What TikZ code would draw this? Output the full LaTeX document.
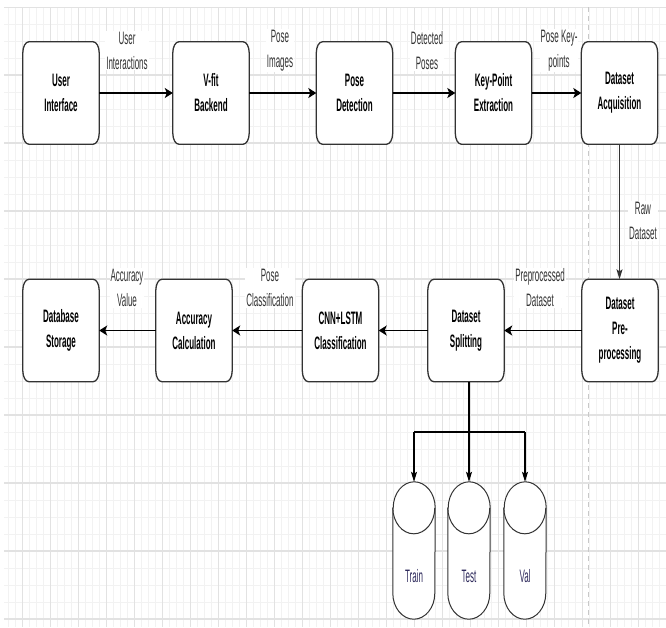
\documentclass[tikz,border=0pt]{standalone}
\usepackage{fontspec}
\setmainfont{Liberation Sans}
\newfontfamily\cond[FakeStretch=0.445]{Liberation Sans}
\usetikzlibrary{arrows.meta,backgrounds}
\definecolor{gridmaj}{HTML}{E2E2E2}
\definecolor{gridmin}{HTML}{F2F2F2}
\definecolor{edgec}{HTML}{333333}
\definecolor{lblc}{HTML}{333333}
\definecolor{cyltext}{HTML}{2E2A5C}
\definecolor{pagec}{HTML}{C8C8C8}
\begin{document}
\begin{tikzpicture}[x=1pt,y=1pt,
  box/.style={minimum width=76pt,minimum height=102pt,inner sep=0pt,align=center,
    font=\cond\bfseries\fontsize{18}{25}\selectfont},
  lab/.style={align=center,font=\cond\fontsize{18}{25}\selectfont,text=lblc,fill=white,inner sep=1pt},
  cyl/.style={minimum width=42pt,minimum height=137pt,inner sep=0pt},
  cyllab/.style={font=\cond\fontsize{18}{24}\selectfont,text=cyltext},
  boxline/.style={draw=edgec,fill=white,line width=1.3pt},
  cylline/.style={draw=edgec,fill=white,line width=1pt},
  harrow/.style={line width=1.3pt,-{Stealth[length=8pt,width=10pt,inset=2pt]}},
  varrow/.style={line width=1.1pt,-{Stealth[length=10pt,width=6pt,inset=2pt]}},
  plain/.style={line width=1.1pt},
]
\useasboundingbox (0,0) rectangle (666,-627);

% process boxes
\node[box] (ui)    at (61,-93)    {User\\Interface};
\node[box] (vfit)  at (211,-93)   {V-fit\\Backend};
\node[box] (pose)  at (354.5,-93) {Pose\\Detection};
\node[box] (kp)    at (493.5,-93) {Key-Point\\Extraction};
\node[box] (acq)   at (619.5,-93) {Dataset\\Acquisition};
\node[box] (pre)   at (620,-330.5) {Dataset\\Pre-\\processing};
\node[box] (split) at (466,-330.5) {Dataset\\Splitting};
\node[box] (cnn)   at (340.5,-330.5) {CNN+LSTM\\Classification};
\node[box] (acc)   at (194,-330.5) {Accuracy\\Calculation};
\node[box] (db)    at (61,-330.5)  {Database\\Storage};

% data stores
\node[cyl,label={[cyllab,yshift=-26pt]center:Train}] (train) at (414,-550.5) {};
\node[cyl,label={[cyllab,yshift=-26pt]center:Test}]  (test)  at (469,-550.5) {};
\node[cyl,label={[cyllab,yshift=-26pt]center:Val}]   (val)   at (525,-550.5) {};

\begin{scope}[on background layer]
  \begin{scope}
    \clip (4,-7) rectangle (666,-627);
    \foreach \x in {8,15,...,666} \draw[gridmin,line width=0.8pt] (\x,-7) -- (\x,-627);
    \foreach \y in {7,24,...,627} \draw[gridmin,line width=0.8pt] (4,-\y) -- (666,-\y);
    \foreach \x in {22,50,...,666} \draw[gridmaj,line width=0.9pt] (\x,-7) -- (\x,-627);
    \foreach \y in {7,75,...,627} \draw[gridmaj,line width=1.2pt] (4,-\y) -- (666,-\y);
  \end{scope}
  \draw[pagec,line width=0.8pt,dash pattern=on 5pt off 4pt] (588,-7) -- (588,-627);
  \foreach \n in {ui,vfit,pose,kp,acq,pre,split,cnn,acc,db}{
    \filldraw[boxline] ([yshift=-11pt]\n.north west) -- ([yshift=11pt]\n.south west)
      arc[start angle=180,end angle=270,x radius=6pt,y radius=11pt]
      -- ([xshift=-6pt]\n.south east)
      arc[start angle=270,end angle=360,x radius=6pt,y radius=11pt]
      -- ([yshift=-11pt]\n.north east)
      arc[start angle=0,end angle=90,x radius=6pt,y radius=11pt]
      -- ([xshift=6pt]\n.north west)
      arc[start angle=90,end angle=180,x radius=6pt,y radius=11pt] -- cycle;
  }
  \foreach \n in {train,test,val}{
    \filldraw[cylline] ([yshift=-26pt]\n.north west) -- ([yshift=26pt]\n.south west)
      arc[start angle=180,end angle=360,x radius=21pt,y radius=26pt]
      -- ([yshift=-26pt]\n.north east)
      arc[start angle=0,end angle=180,x radius=21pt,y radius=26pt] -- cycle;
    \draw[cylline,fill=none] ([yshift=-26pt]\n.north west)
      arc[start angle=180,end angle=360,x radius=21pt,y radius=26pt];
  }
\end{scope}

% top row connectors
\draw[harrow] (ui) -- (vfit);
\node[lab] at (127,-50.5) {User\\Interactions};
\draw[harrow] (vfit) -- (pose);
\node[lab] at (280,-50.5) {Pose\\Images};
\draw[harrow] (pose) -- (kp);
\node[lab] at (427,-50.5) {Detected\\Poses};
\draw[harrow] (kp) -- (acq);
\node[lab] at (559,-50.5) {Pose Key-\\points};

% down to preprocessing
\draw[varrow,draw=edgec] (acq.south) -- (acq.south |- pre.north);
\node[lab] at (643,-221) {Raw\\Dataset};

% bottom row connectors
\draw[harrow] (pre) -- (split);
\node[lab] at (540,-288) {Preprocessed\\Dataset};
\draw[harrow] (split) -- (cnn);
\node[lab] at (270,-288) {Pose\\Classification};
\draw[harrow] (cnn) -- (acc);
\draw[harrow] (acc) -- (db);
\node[lab] at (127,-288) {Accuracy\\Value};

% split into train / test / val
\coordinate (fork) at (469,-432);
\draw[plain] (split.south -| fork) -- (fork);
\draw[plain] (fork -| train) -- (fork -| val);
\draw[varrow] (fork -| train) -- (train.north);
\draw[varrow] (fork) -- (test.north);
\draw[varrow] (fork -| val) -- (val.north);
\end{tikzpicture}
\end{document}
